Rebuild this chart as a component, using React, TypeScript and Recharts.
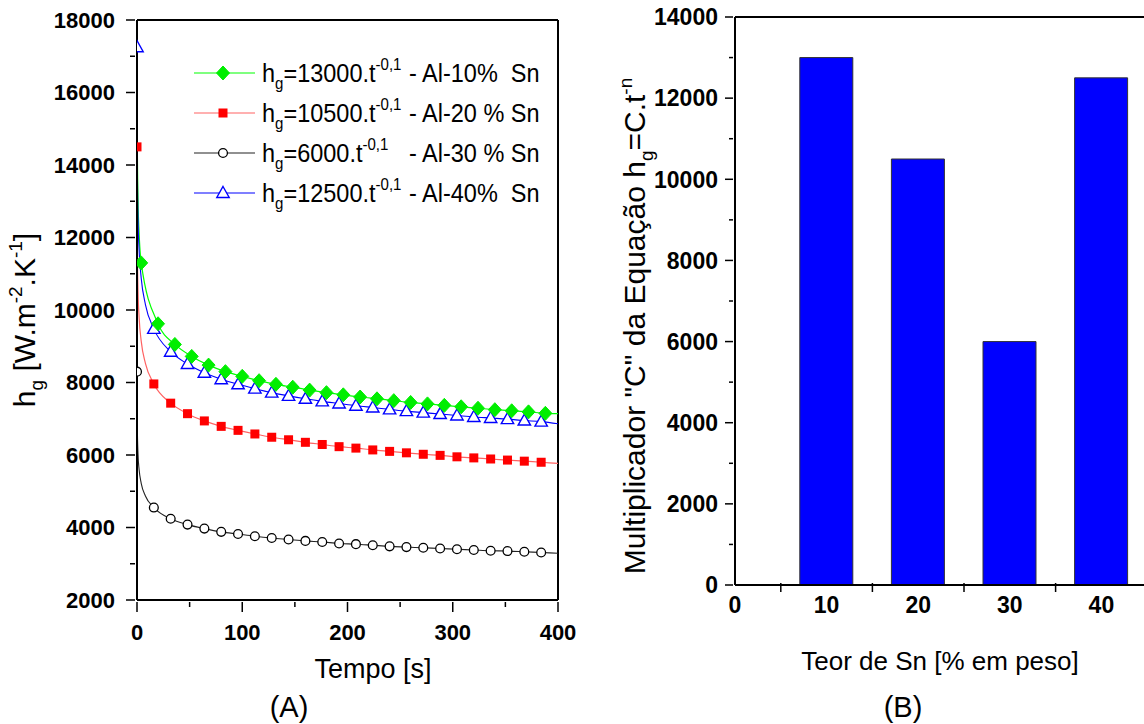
import {
  ComposedChart,
  Line,
  Scatter,
  XAxis,
  YAxis,
  Legend,
  Label,
  ReferenceLine,
  BarChart,
  Bar,
} from 'recharts'

const FONT = '"Liberation Sans", Arial, sans-serif'

// (A) pontos experimentais, h_g em W.m-2.K-1
const tempoPontos = [
  0, 16, 32, 48, 64, 80, 96, 112, 128, 144, 160, 176, 192, 208, 224, 240, 256,
  272, 288, 304, 320, 336, 352, 368, 384,
]
const tempoAl10 = [
  4, 20, 36, 52, 68, 84, 100, 116, 132, 148, 164, 180, 196, 212, 228, 244, 260,
  276, 292, 308, 324, 340, 356, 372, 388,
]
const hgAl10 = [
  11300, 9620, 9050, 8720, 8480, 8300, 8170, 8050, 7950, 7870, 7790, 7720, 7660,
  7600, 7550, 7500, 7450, 7410, 7370, 7330, 7290, 7250, 7220, 7190, 7150,
]
const hgAl20 = [
  14500, 7960, 7430, 7140, 6940, 6790, 6680, 6580, 6490, 6420, 6350, 6290, 6230,
  6190, 6140, 6100, 6060, 6020, 5990, 5950, 5920, 5890, 5860, 5830, 5800,
]
const hgAl30 = [
  8300, 4550, 4240, 4080, 3970, 3880, 3820, 3760, 3710, 3670, 3630, 3600, 3560,
  3540, 3510, 3480, 3460, 3440, 3420, 3400, 3380, 3360, 3350, 3330, 3310,
]
const hgAl40 = [
  17250, 9480, 8850, 8510, 8270, 8090, 7950, 7830, 7720, 7630, 7550, 7480, 7420,
  7360, 7310, 7260, 7210, 7170, 7130, 7090, 7050, 7020, 6990, 6950, 6920,
]

// (A) curvas de ajuste: trecho junto ao eixo e ponto final em 400 s
const tempoInicioAl10 = [0.05, 0.3, 1, 2]
const tempoInicio = [0.05, 0.3, 1, 2, 4, 8]
const ajusteInicioAl10 = [17540, 14660, 13000, 12130]
const ajusteInicioAl20 = [14160, 11840, 10500, 9800, 9140, 8530]
const ajusteInicioAl30 = [8090, 6770, 6000, 5600, 5220, 4870]
const ajusteInicioAl40 = [16860, 14100, 12500, 11660, 10880, 10150]
const tempoFinal = 400
const ajusteFinal = [7140, 5770, 3290, 6860]

const ticksTempo = [0, 50, 100, 150, 200, 250, 300, 350, 400]
const ticksHg = [
  2000, 3000, 4000, 5000, 6000, 7000, 8000, 9000, 10000, 11000, 12000, 13000,
  14000, 15000, 16000, 17000, 18000,
]

// (B) multiplicador C por teor de Sn
const teorSn = [10, 20, 30, 40]
const multiplicadorC = [13000, 10500, 6000, 12500]
const ticksTeor = [0, 5, 10, 15, 20, 25, 30, 35, 40, 45, 50]
const ticksC = [
  0, 1000, 2000, 3000, 4000, 5000, 6000, 7000, 8000, 9000, 10000, 11000, 12000,
  13000, 14000,
]

// legenda de (A)
const legendaC = ['13000', '10500', '6000', '12500']
const legendaLiga = ['- Al-10%  Sn', '- Al-20 % Sn', '- Al-30 % Sn', '- Al-40%  Sn']
const legendaCor = ['#00ff00', '#ff6262', '#222222', '#0000ff']
const legendaForma = ['diamond', 'square', 'circle', 'triangle']

type Pt = { t: number; v: number }
const pts = (ts: number[], vs: number[]): Pt[] => ts.map((t, i) => ({ t, v: vs[i] }))

const pontosAl10 = pts(tempoAl10, hgAl10)
const pontosAl20 = pts(tempoPontos, hgAl20)
const pontosAl30 = pts(tempoPontos, hgAl30)
const pontosAl40 = pts(tempoPontos, hgAl40)

const curvaAl10 = [...pts(tempoInicioAl10, ajusteInicioAl10), ...pontosAl10, { t: tempoFinal, v: ajusteFinal[0] }]
const curvaAl20 = [...pts(tempoInicio, ajusteInicioAl20), ...pontosAl20.slice(1), { t: tempoFinal, v: ajusteFinal[1] }]
const curvaAl30 = [...pts(tempoInicio, ajusteInicioAl30), ...pontosAl30.slice(1), { t: tempoFinal, v: ajusteFinal[2] }]
const curvaAl40 = [...pts(tempoInicio, ajusteInicioAl40), ...pontosAl40.slice(1), { t: tempoFinal, v: ajusteFinal[3] }]

const dadosB = teorSn.map((teor, i) => ({ teor, c: multiplicadorC[i] }))

function Marker({ shape, cx, cy }: { shape: string; cx: number; cy: number }) {
  if (shape === 'diamond')
    return <polygon points={`${cx},${cy - 7} ${cx + 6.5},${cy} ${cx},${cy + 7} ${cx - 6.5},${cy}`} fill="#00ee00" stroke="#00ee00" />
  if (shape === 'square')
    return <rect x={cx - 4.5} y={cy - 4.5} width={9} height={9} fill="#ff0000" />
  if (shape === 'circle')
    return <circle cx={cx} cy={cy} r={4.4} fill="#fff" stroke="#000" strokeWidth={1.3} />
  return (
    <polygon
      points={`${cx},${cy - 6.5} ${cx + 6.2},${cy + 4.5} ${cx - 6.2},${cy + 4.5}`}
      fill="#fff"
      stroke="#0000ff"
      strokeWidth={1.4}
    />
  )
}

const shapeOf = (shape: string) => (p: any) => <Marker shape={shape} cx={p.cx} cy={p.cy} />

function TickHg(props: any) {
  const { x, y, payload } = props
  const major = payload.value % 2000 === 0
  return (
    <g>
      <line x1={x} x2={x - (major ? 9 : 5)} y1={y} y2={y} stroke="#000" strokeWidth={1.5} />
      {major && (
        <text x={x - 20} y={y} dy="0.36em" textAnchor="end" fontFamily={FONT} fontWeight="bold" fontSize={22} fill="#000">
          {payload.value}
        </text>
      )}
    </g>
  )
}

function TickTempo(props: any) {
  const { x, y, payload } = props
  const major = payload.value % 100 === 0
  return (
    <g>
      <line x1={x} x2={x} y1={y} y2={y + (major ? 10 : 5)} stroke="#000" strokeWidth={1.5} />
      {major && (
        <text x={x} y={y + 30} dy="0.36em" textAnchor="middle" fontFamily={FONT} fontWeight="bold" fontSize={22} fill="#000">
          {payload.value}
        </text>
      )}
    </g>
  )
}

function TickC(props: any) {
  const { x, y, payload } = props
  const major = payload.value % 2000 === 0
  return (
    <g>
      <line x1={x} x2={x - (major ? 8 : 4)} y1={y} y2={y} stroke="#000" strokeWidth={1.5} />
      {major && (
        <text x={x - 15} y={y} dy="0.36em" textAnchor="end" fontFamily={FONT} fontWeight="bold" fontSize={23} fill="#000">
          {payload.value}
        </text>
      )}
    </g>
  )
}

function TickTeor(props: any) {
  const { x, y, payload } = props
  const v = payload.value
  return (
    <g>
      {v % 10 === 5 && <line x1={x} x2={x} y1={y - 4} y2={y + 5} stroke="#000" strokeWidth={1.5} />}
      {v % 10 === 0 && v < 50 && (
        <text x={x} y={y + 18} dy="0.36em" textAnchor="middle" fontFamily={FONT} fontWeight="bold" fontSize={23} fill="#000">
          {v}
        </text>
      )}
    </g>
  )
}

function LegendaA() {
  return (
    <svg width={370} height={170} style={{ overflow: 'visible' }}>
      {legendaC.map((c, i) => {
        const y = 23 + i * 40
        return (
          <g key={c}>
            <line x1={9} x2={70} y1={y} y2={y} stroke={legendaCor[i]} strokeWidth={1.2} />
            <Marker shape={legendaForma[i]} cx={38} cy={y} />
            <g transform={`translate(77 ${y + 9}) scale(0.94 1)`}>
              <text x={0} y={0} fontFamily={FONT} fontSize={25} fill="#000">
                h
                <tspan fontSize={16} dy={7}>g</tspan>
                <tspan dy={-7}>{`=${c}.t`}</tspan>
                <tspan fontSize={16} dy={-12}>-0,1</tspan>
              </text>
            </g>
            <g transform={`translate(224 ${y + 9}) scale(0.94 1)`}>
              <text x={0} y={0} fontFamily={FONT} fontSize={25} fill="#000" style={{ whiteSpace: 'pre' }}>
                {legendaLiga[i]}
              </text>
            </g>
          </g>
        )
      })}
    </svg>
  )
}

function TituloHg() {
  return (
    <text transform="translate(35 320) rotate(-90)" textAnchor="middle" fontFamily={FONT} fontSize={30} fill="#000">
      h
      <tspan fontSize={19} dy={8}>g</tspan>
      <tspan dy={-8}> [W.m</tspan>
      <tspan fontSize={19} dy={-13}>-2</tspan>
      <tspan dy={13}>.K</tspan>
      <tspan fontSize={19} dy={-13}>-1</tspan>
      <tspan dy={13}>]</tspan>
    </text>
  )
}

function TituloTempo() {
  return (
    <g fontFamily={FONT} fill="#000">
      <text x={373} y={678} textAnchor="middle" fontSize={27}>Tempo [s]</text>
      <text x={289} y={717} textAnchor="middle" fontSize={29}>(A)</text>
    </g>
  )
}

function TituloC() {
  return (
    <text transform="translate(45 326) rotate(-90)" textAnchor="middle" fontFamily={FONT} fontSize={30} fill="#000">
      {'Multiplicador "C" da Equação h'}
      <tspan fontSize={19} dy={8}>g</tspan>
      <tspan dy={-8}>=C.t</tspan>
      <tspan fontSize={19} dy={-13}>-n</tspan>
    </text>
  )
}

function TituloTeor() {
  return (
    <g fontFamily={FONT} fill="#000">
      <text x={340} y={670} textAnchor="middle" fontSize={26}>Teor de Sn [% em peso]</text>
      <text x={303} y={717} textAnchor="middle" fontSize={29}>(B)</text>
    </g>
  )
}

const eixo = { stroke: '#000', strokeWidth: 2 }

export default function App() {
  return (
    <div
      style={{
        position: 'absolute',
        left: 0,
        top: 0,
        width: 1144,
        height: 724,
        overflow: 'hidden',
        background: '#fff',
        fontFamily: FONT,
      }}
    >
      <div style={{ position: 'absolute', left: 0, top: 0 }}>
        <ComposedChart width={600} height={724} margin={{ top: 20, right: 42, bottom: 64, left: 57 }}>
          <XAxis
            dataKey="t"
            type="number"
            domain={[0, 400]}
            ticks={ticksTempo}
            interval={0}
            allowDataOverflow
            height={60}
            tickSize={0}
            tickLine={false}
            axisLine={eixo}
            tick={(p: any) => <TickTempo {...p} />}
          >
            <Label content={() => <TituloTempo />} />
          </XAxis>
          <YAxis
            type="number"
            domain={[2000, 18000]}
            ticks={ticksHg}
            interval={0}
            allowDataOverflow
            width={80}
            tickSize={0}
            tickLine={false}
            axisLine={eixo}
            tick={(p: any) => <TickHg {...p} />}
          >
            <Label content={() => <TituloHg />} />
          </YAxis>
          <ReferenceLine y={18000} stroke="#000" strokeWidth={2} />
          <ReferenceLine x={400} stroke="#000" strokeWidth={2} />
          <Line data={curvaAl10} dataKey="v" type="monotone" stroke="#00ff00" strokeWidth={1.2} dot={false} isAnimationActive={false} />
          <Line data={curvaAl20} dataKey="v" type="monotone" stroke="#ff6262" strokeWidth={1.2} dot={false} isAnimationActive={false} />
          <Line data={curvaAl30} dataKey="v" type="monotone" stroke="#222222" strokeWidth={1.1} dot={false} isAnimationActive={false} />
          <Line data={curvaAl40} dataKey="v" type="monotone" stroke="#0000ff" strokeWidth={1.1} dot={false} isAnimationActive={false} />
          <Scatter data={pontosAl30} dataKey="v" shape={shapeOf('circle')} isAnimationActive={false} />
          <Scatter data={pontosAl20} dataKey="v" shape={shapeOf('square')} isAnimationActive={false} />
          <Scatter data={pontosAl40} dataKey="v" shape={shapeOf('triangle')} isAnimationActive={false} />
          <Scatter data={pontosAl10} dataKey="v" shape={shapeOf('diamond')} isAnimationActive={false} />
          <Legend
            layout="vertical"
            align="center"
            verticalAlign="middle"
            wrapperStyle={{ left: 185, top: 50, width: 370, height: 170 }}
            content={() => <LegendaA />}
          />
        </ComposedChart>
      </div>
      <div style={{ position: 'absolute', left: 600, top: 0 }}>
        <BarChart width={640} height={724} data={dadosB} margin={{ top: 17, right: 47, bottom: 79, left: 55 }}>
          <XAxis
            dataKey="teor"
            type="number"
            domain={[0, 50]}
            ticks={ticksTeor}
            interval={0}
            allowDataOverflow
            height={60}
            tickSize={0}
            tickLine={false}
            axisLine={eixo}
            tick={(p: any) => <TickTeor {...p} />}
          >
            <Label content={() => <TituloTeor />} />
          </XAxis>
          <YAxis
            type="number"
            domain={[0, 14000]}
            ticks={ticksC}
            interval={0}
            width={80}
            tickSize={0}
            tickLine={false}
            axisLine={eixo}
            tick={(p: any) => <TickC {...p} />}
          >
            <Label content={() => <TituloC />} />
          </YAxis>
          <ReferenceLine y={14000} stroke="#000" strokeWidth={2} />
          <Bar dataKey="c" barSize={53} fill="#0000ff" stroke="#333" strokeWidth={1} isAnimationActive={false} />
        </BarChart>
      </div>
    </div>
  )
}
